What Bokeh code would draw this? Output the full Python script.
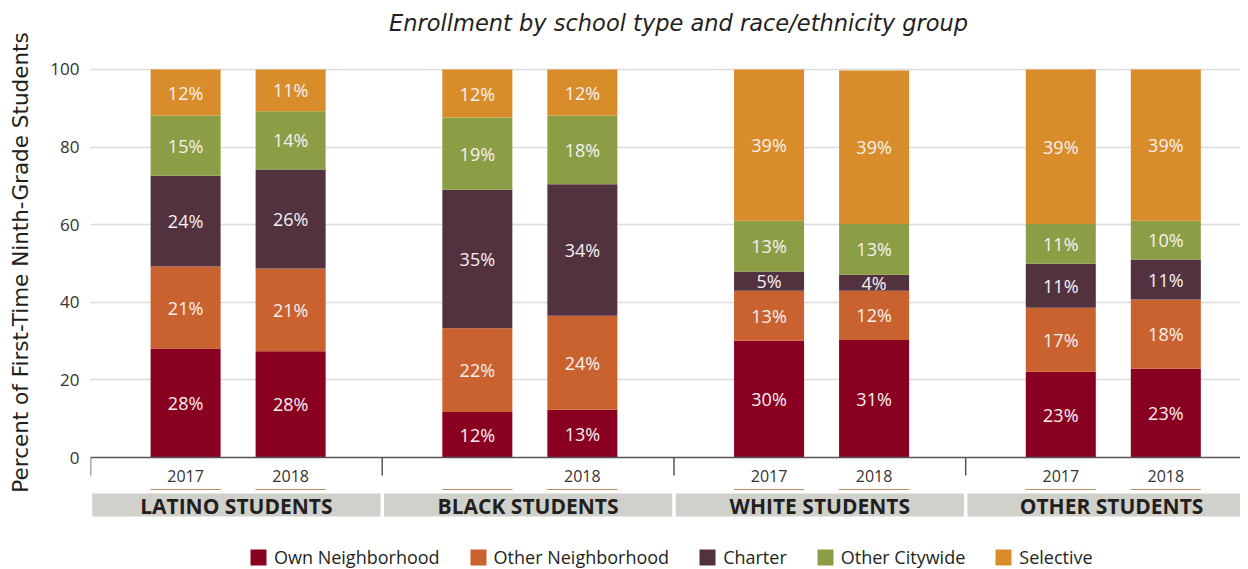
import math
from bokeh.plotting import figure
from bokeh.layouts import column, row
from bokeh.models import ColumnDataSource, FixedTicker, Span, Legend, LegendItem
from bokeh.core.properties import value
from bokeh.embed import file_html
from bokeh.resources import INLINE

# ---------------- data ----------------
groups = ["LATINO STUDENTS", "BLACK STUDENTS", "WHITE STUDENTS", "OTHER STUDENTS"]
years = ["2017", "2018"]
year_labels = ["2017", "2018", "", "2018", "2017", "2018", "2017", "2018"]

series = ["Own Neighborhood", "Other Neighborhood", "Charter", "Other Citywide", "Selective"]

own_neighborhood = [28.1, 27.4, 11.7, 12.3, 30.1, 30.3, 22.1, 22.9]
other_neighborhood = [21.1, 21.3, 21.6, 24.2, 12.9, 12.7, 16.5, 17.8]
charter = [23.4, 25.5, 35.7, 33.9, 4.9, 4.1, 11.3, 10.3]
other_citywide = [15.5, 15.0, 18.6, 17.7, 13.1, 13.1, 10.3, 10.0]
selective = [11.9, 10.8, 12.4, 11.9, 39.0, 39.5, 39.8, 39.0]

own_neighborhood_labels = ["28%", "28%", "12%", "13%", "30%", "31%", "23%", "23%"]
other_neighborhood_labels = ["21%", "21%", "22%", "24%", "13%", "12%", "17%", "18%"]
charter_labels = ["24%", "26%", "35%", "34%", "5%", "4%", "11%", "11%"]
other_citywide_labels = ["15%", "14%", "19%", "18%", "13%", "13%", "11%", "10%"]
selective_labels = ["12%", "11%", "12%", "12%", "39%", "39%", "39%", "39%"]

y_ticks = [0, 20, 40, 60, 80, 100]

title_text = "Enrollment by school type and race/ethnicity group"
y_label_text = "Percent of First-Time Ninth-Grade Students"

# ---------------- styles ----------------
colors = ["#8a0020", "#c9622f", "#53323f", "#8b9e45", "#d98c2a"]
FONT_NAME = "Open Sans"
FONT = value(FONT_NAME)
WIDE_FONT = "DejaVu Sans"
TEXT_DARK = "#231f20"
AXIS_COLOR = "#555555"

values = [own_neighborhood, other_neighborhood, charter, other_citywide, selective]
labels = [own_neighborhood_labels, other_neighborhood_labels, charter_labels,
          other_citywide_labels, selective_labels]
keys = ["own", "other_nb", "charter", "citywide", "selective"]

n_bars = len(groups) * len(years)
group_index = [i // len(years) for i in range(n_bars)]
slot_index = [i % len(years) for i in range(n_bars)]
GROUP_CENTER = 0.506
DODGE = 0.18
xs = [g + GROUP_CENTER + (s - 0.5) * 2 * DODGE for g, s in zip(group_index, slot_index)]

data = {"x": xs, "year": year_labels}
for k, v in zip(keys, values):
    data[k] = v
src = ColumnDataSource(data)

LEFT_W = 40
W = 1200
LEFT = 50
X_END = 3.942
PX = 3.881  # pixels per percentage point on the value axis


def bare(fig, left=LEFT):
    fig.min_border_left = left
    fig.min_border_right = 0
    fig.min_border_top = 0
    fig.min_border_bottom = 0
    fig.outline_line_color = None
    fig.xgrid.grid_line_color = None
    fig.ygrid.grid_line_color = None


# ---------------- y-axis title column ----------------
ylab = figure(width=LEFT_W, height=569, x_range=(0, LEFT_W), y_range=(0, 569),
              output_backend="svg", toolbar_location=None,
              x_axis_location=None, y_axis_location=None)
bare(ylab, left=0)
ylab.text(x=[LEFT_W / 2], y=[307], text=[y_label_text], angle=math.pi / 2,
          text_align="center", text_baseline="middle",
          text_font=value(WIDE_FONT), text_font_size="21.5px", text_color=TEXT_DARK)

# ---------------- title strip ----------------
t = figure(width=W, height=57, x_range=(0, X_END), y_range=(0, 57),
           output_backend="svg", toolbar_location=None,
           x_axis_location=None, y_axis_location=None)
bare(t)
t.text(x=[X_END / 2], y=[35], text=[title_text], x_offset=13,
       text_align="center", text_baseline="middle",
       text_font=value(WIDE_FONT), text_font_size="22.5px", text_font_style="italic",
       text_color=TEXT_DARK)

# ---------------- main chart ----------------
p = figure(width=W, height=432, x_range=t.x_range, y_range=(-32 / PX, 100.5),
           output_backend="svg", toolbar_location=None, x_axis_location=None)
bare(p)
p.min_border_top = 10

p.yaxis.ticker = FixedTicker(ticks=y_ticks)
p.yaxis.axis_line_color = None
p.yaxis.major_tick_line_color = None
p.yaxis.minor_tick_line_color = None
p.yaxis.major_tick_out = 0
p.yaxis.major_label_standoff = 11
p.yaxis.major_label_text_font = FONT_NAME
p.yaxis.major_label_text_font_size = "17px"
p.yaxis.major_label_text_color = "#333333"
p.ygrid.grid_line_color = "#dcdcdc"
p.ygrid.grid_line_width = 1.5
p.ygrid.ticker = FixedTicker(ticks=y_ticks[1:])

p.vbar_stack(keys, x="x", width=0.24, color=colors, line_color=None, source=src)

bottoms = [0.0] * n_bars
for v, lab in zip(values, labels):
    mids = [b + val / 2 for b, val in zip(bottoms, v)]
    bottoms = [b + val for b, val in zip(bottoms, v)]
    lsrc = ColumnDataSource({"x": xs, "y": mids, "t": lab})
    p.text(x="x", y="y", text="t", source=lsrc, text_align="center", text_baseline="middle",
           text_font=FONT, text_font_size="18px", text_color="#f6f1f1")

p.add_layout(Span(location=0, dimension="width", line_color=AXIS_COLOR, line_width=1.5))

sep_x = list(range(len(groups)))
p.segment(x0=sep_x, y0=[0] * len(sep_x), x1=sep_x, y1=[-18 / PX] * len(sep_x),
          line_color=AXIS_COLOR, line_width=1.5)

p.text(x="x", y=-18 / PX, text="year", source=src, text_align="center", text_baseline="middle",
       text_font=FONT, text_font_size="16px", text_color="#333333")

# ---------------- category strip + legend ----------------
q = figure(width=W, height=80, x_range=t.x_range, y_range=(-82, -2),
           output_backend="svg", toolbar_location=None,
           x_axis_location=None, y_axis_location=None)
bare(q)

gx = [i + 0.5 for i in range(len(groups))]
gsrc = ColumnDataSource({"x": gx, "g": groups})
q.rect(x="x", y=-17.5, width=0.988, height=23, source=gsrc,
       fill_color="#d1d1cb", line_color=None)
q.text(x="x", y=-18, text="g", source=gsrc, text_align="center", text_baseline="middle",
       text_font=FONT, text_font_size="21px", text_font_style="bold", text_color=TEXT_DARK)

# zero-height bars of each series colour: they draw nothing, but give the legend its swatches
legend_renderers = [q.vbar(x="x", top=0, bottom=0, width=0.24, fill_color=c, line_color=None,
                           source=src) for c in colors]
legend = Legend(items=[LegendItem(label=s, renderers=[r], index=0)
                       for s, r in zip(series, legend_renderers)],
                orientation="horizontal", location=(158, 0),
                glyph_width=20, glyph_height=20, label_standoff=6, spacing=28,
                padding=0, margin=0, border_line_color=None, background_fill_alpha=0,
                label_text_font=FONT_NAME, label_text_font_size="18px",
                label_text_color=TEXT_DARK, label_height=20)
q.add_layout(legend)

layout = row(ylab, column(t, p, q, spacing=0), spacing=0)
open("out.html", "w").write(file_html(layout, INLINE))
